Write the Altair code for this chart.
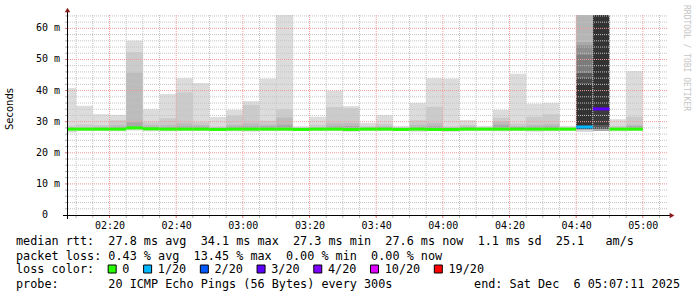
import altair as alt
import pandas as pd

# ---------------- data ----------------
# 5-minute steps, minutes after 02:00 (start / end of each step)
step_start = [5, 10, 15, 20, 25, 30, 35, 40, 45, 50, 55, 60, 65, 70, 75, 80, 85, 90,
              95, 100, 105, 110, 115, 120, 125, 130, 135, 140, 145, 150, 155, 160, 165, 170, 175]
step_end = [10, 15, 20, 25, 30, 35, 40, 45, 50, 55, 60, 65, 70, 75, 80, 85, 90, 95,
            100, 105, 110, 115, 120, 125, 130, 135, 140, 145, 150, 155, 160, 165, 170, 175, 180]

# smoke levels in ms
smoke_max = [40.8, 35.1, 32.4, 32.2, 56.0, 34.0, 38.9, 44.0, 42.4, 31.5, 33.8, 36.6, 43.8, 64.3,
             28.5, 31.6, 39.9, 35.0, 29.6, 32.1, 28.6, 36.0, 44.0, 43.8, 30.5, 28.6, 33.8, 45.4,
             35.8, 36.0, 28.6, 64.3, 64.3, 30.8, 46.3]
smoke_hi1 = [28.7, 29.1, 28.9, 30.5, 52.3, 29.8, 31.1, 39.4, 29.8, 28.5, 31.9, 35.4, 30.3, 34.0,
             28.2, 29.0, 34.7, 34.3, 28.6, 29.3, 28.2, 30.5, 34.8, 28.5, 29.0, 28.2, 31.3, 29.4,
             31.6, 32.4, 28.2, 28.6, 28.6, 28.7, 31.6]
smoke_hi2 = [28.2, 28.2, 28.4, 28.9, 45.7, 28.9, 29.0, 29.5, 28.9, 28.2, 29.0, 29.5, 29.0, 31.3,
             28.0, 28.3, 29.5, 29.5, 28.2, 28.5, 28.0, 29.0, 29.5, 28.2, 28.5, 28.0, 30.0, 28.6,
             29.0, 29.2, 28.0, 28.6, 28.6, 28.2, 29.0]
smoke_hi3 = [28.0, 28.0, 28.1, 28.3, 29.8, 28.3, 28.3, 28.5, 28.4, 28.0, 28.4, 28.5, 28.5, 29.0,
             27.9, 28.0, 28.5, 28.6, 28.0, 28.2, 27.9, 28.3, 28.5, 28.0, 28.2, 27.9, 29.0, 28.3,
             28.4, 28.5, 27.9, 28.6, 28.6, 28.0, 28.5]
smoke_min = [26.5, 27.0, 27.0, 26.9, 27.2, 26.9, 26.9, 27.0, 27.0, 27.0, 26.9, 26.8, 27.0, 27.0,
             27.2, 27.0, 27.0, 26.8, 27.0, 27.0, 27.0, 26.8, 27.0, 26.8, 27.0, 27.0, 26.9, 27.0,
             26.8, 26.9, 27.0, 26.8, 27.0, 26.9, 27.0]
median = [27.6, 27.6, 27.6, 27.6, 28.0, 27.7, 27.6, 27.6, 27.6, 27.5, 27.6, 27.6, 27.6, 27.6,
          27.5, 27.6, 27.6, 27.5, 27.6, 27.6, 27.5, 27.6, 27.5, 27.5, 27.6, 27.6, 27.6, 27.6,
          27.6, 27.6, 27.6, 28.3, 34.1, 27.6, 27.6]
loss = ["0"] * 31 + ["1/20", "3/20", "0", "0"]

# dark smoke of the two lossy steps (04:40 and 04:45)
dark_start = [160, 160, 160, 160, 160, 160, 160, 160, 165, 165, 165, 165]
dark_end = [165, 165, 165, 165, 165, 165, 165, 165, 170, 170, 170, 170]
dark_lo = [55.7, 54.6, 51.7, 45.7, 44.1, 42.3, 27.5, 26.8, 34.1, 28.9, 27.6, 27.0]
dark_hi = [64.3, 55.7, 54.6, 51.7, 45.7, 44.1, 42.3, 27.5, 64.3, 34.1, 28.9, 27.6]
dark_shade = ["#b5b5b5", "#a9a9a9", "#8e8e8e", "#7c7c7c", "#5c5c5c", "#474747", "#333333",
              "#d6d6d6", "#333333", "#3b3b3b", "#555555", "#a8a8a8"]

loss_labels = ["0", "1/20", "2/20", "3/20", "4/20", "10/20", "19/20"]
loss_colors = ["#26ff00", "#00b8ff", "#0059ff", "#5e00ff", "#7e00ff", "#dd00ff", "#ff0000"]

y_tick_vals = [0, 10, 20, 30, 40, 50, 60]
y_tick_text = ["0", "10", "20", "30", "40", "50", "60"]
x_major = [20, 40, 60, 80, 100, 120, 140, 160, 180]
x_minor = [10, 15, 25, 30, 35, 45, 50, 55, 65, 70, 75, 85, 90, 95, 105, 110, 115, 125, 130,
           135, 145, 150, 155, 165, 170, 175, 185]
y_major = [10, 20, 30, 40, 50, 60]
y_minor = [2, 4, 6, 8, 12, 14, 16, 18, 22, 24, 26, 28, 32, 34, 36, 38, 42, 44, 46, 48, 52, 54,
           56, 58, 62, 64]

legend_lines = [
    "median rtt:  27.8 ms avg  34.1 ms max  27.3 ms min  27.6 ms now  1.1 ms sd  25.1   am/s",
    "packet loss: 0.43 % avg  13.45 % max  0.00 % min  0.00 % now",
    "loss color:",
    "probe:       20 ICMP Echo Pings (56 Bytes) every 300s",
]
end_text = "end: Sat Dec  6 05:07:11 2025"

# ---------------- layout ----------------
W, H = 600, 200
PAD = {"left": 67, "top": 15, "right": 30, "bottom": 82}
MONO = "DejaVu Sans Mono"
CH = 7.09  # legend char width
LEG_FS = 11.8

def nb(s):
    return s.replace(" ", "\u00a0")

xs = alt.Scale(domain=[7.25, 187.25], nice=False, zero=False)
ys = alt.Scale(domain=[0, 64.3], nice=False, zero=False)

X_AX = alt.Axis(values=x_major, labelExpr="'0' + (2 + floor(datum.value / 60)) + ':' + (datum.value % 60 == 0 ? '00' : datum.value % 60)",
                labelFont=MONO, labelFontSize=10, labelColor="#000", labelPadding=5,
                ticks=False, domain=False, grid=False, title=None, labelFlush=False)

df = pd.DataFrame({"start": step_start, "end": step_end, "mx": smoke_max, "hi1": smoke_hi1,
                   "hi2": smoke_hi2, "hi3": smoke_hi3, "mn": smoke_min, "med": median,
                   "loss": loss})
dark = pd.DataFrame({"start": dark_start, "end": dark_end, "lo": dark_lo, "hi": dark_hi,
                     "shade": dark_shade})

base = alt.Chart(df)

def band(lo, hi, color):
    return base.mark_rect(color=color, clip=True).encode(
        x=alt.X("start:Q", scale=xs, axis=X_AX), x2="end:Q",
        y=alt.Y(f"{lo}:Q", scale=ys, axis=None), y2=f"{hi}:Q")

layers = [
    band("mn", "mx", "#dcdcdc"),
    band("med", "hi1", "#cbcbcb"),
    band("med", "hi2", "#bcbcbc"),
    band("med", "hi3", "#a9a9a9"),
    alt.Chart(dark).mark_rect(clip=True).encode(
        x=alt.X("start:Q", scale=xs, axis=X_AX), x2="end:Q",
        y=alt.Y("lo:Q", scale=ys, axis=None), y2="hi:Q",
        color=alt.Color("shade:N", scale=None)),
]

# grid
def vgrid(vals, color):
    return alt.Chart(pd.DataFrame({"v": vals})).mark_rule(color=color, strokeDash=[1, 1], strokeWidth=1).encode(
        x=alt.X("v:Q", scale=xs, axis=X_AX))

def hgrid(vals, color):
    return alt.Chart(pd.DataFrame({"v": vals})).mark_rule(color=color, strokeDash=[1, 1], strokeWidth=1).encode(
        y=alt.Y("v:Q", scale=ys, axis=None))

def vtick(vals, color):
    return alt.Chart(pd.DataFrame({"v": vals})).mark_rule(color=color, strokeWidth=1).encode(
        x=alt.X("v:Q", scale=xs, axis=X_AX), y=alt.value(201), y2=alt.value(203))

def htick(vals, color):
    return alt.Chart(pd.DataFrame({"v": vals})).mark_rule(color=color, strokeWidth=1).encode(
        y=alt.Y("v:Q", scale=ys, axis=None), x=alt.value(-2), x2=alt.value(0))

layers += [vgrid(x_minor, "#c4c4c4"), hgrid(y_minor, "#c4c4c4"),
           vgrid(x_major, "#ee9a9a"), hgrid(y_major, "#ee9a9a"),
           vtick(x_minor, "#b0b0b0"), vtick(x_major, "#e07070"),
           htick(y_minor, "#b0b0b0"), htick(y_major, "#e07070")]

# median line coloured by loss
layers.append(base.mark_rule(strokeWidth=3, clip=True).encode(
    x=alt.X("start:Q", scale=xs, axis=X_AX), x2="end:Q",
    y=alt.Y("med:Q", scale=ys, axis=None),
    color=alt.Color("loss:N", scale=alt.Scale(domain=loss_labels, range=loss_colors), legend=None)))

# axes lines and arrows
one = pd.DataFrame({"a": [0]})
layers += [
    alt.Chart(one).mark_rule(color="#000", strokeWidth=1).encode(
        x=alt.value(-4), x2=alt.value(603), y=alt.value(200.5)),
    alt.Chart(one).mark_rule(color="#000", strokeWidth=1).encode(
        x=alt.value(0.5), y=alt.value(204), y2=alt.value(-5)),
    alt.Chart(one).mark_point(shape="triangle-right", filled=True, color="#8b1a1a", size=30, opacity=1).encode(
        x=alt.value(605), y=alt.value(200.5)),
    alt.Chart(one).mark_point(shape="triangle-up", filled=True, color="#8b1a1a", size=30, opacity=1).encode(
        x=alt.value(0.5), y=alt.value(-5)),
]

# y labels
ylab = pd.DataFrame({"v": y_tick_vals, "t": y_tick_text})
layers += [
    alt.Chart(ylab).mark_text(align="right", baseline="middle", font=MONO, fontSize=10, color="#000").encode(
        x=alt.value(-19), y=alt.Y("v:Q", scale=ys, axis=None), text="t:N"),
    alt.Chart(ylab[ylab.v > 0]).mark_text(align="left", baseline="middle", font=MONO, fontSize=10, color="#000").encode(
        x=alt.value(-13), y=alt.Y("v:Q", scale=ys, axis=None), text=alt.value("m")),
    alt.Chart(one).mark_text(angle=270, align="center", baseline="middle", font="DejaVu Sans", fontSize=10, color="#000").encode(
        x=alt.value(-57), y=alt.value(94), text=alt.value("Seconds")),
    alt.Chart(one).mark_text(angle=90, align="left", baseline="middle", font=MONO, fontSize=8, color="#c4c4c4").encode(
        x=alt.value(619), y=alt.value(-10), text=alt.value("RRDTOOL / TOBI OETIKER")),
]

# legend text lines
line_y = [226, 241, 254, 269]
for txt, yy in zip(legend_lines, line_y):
    layers.append(alt.Chart(one).mark_text(align="left", baseline="middle", font=MONO, fontSize=LEG_FS, color="#000").encode(
        x=alt.value(16 - 67), y=alt.value(yy), text=alt.value(nb(txt))))
layers.append(alt.Chart(one).mark_text(align="right", baseline="middle", font=MONO, fontSize=LEG_FS, color="#000").encode(
    x=alt.value(680 - 67), y=alt.value(line_y[3]), text=alt.value(nb(end_text))))

# loss colour boxes
col = 13
bx, tx = [], []
for lab in loss_labels:
    bx.append(16 - 67 + col * CH + 4)
    tx.append(16 - 67 + (col + 2) * CH)
    col += 4 + len(lab)
leg = pd.DataFrame({"lab": loss_labels, "bx": bx, "tx": tx})
layers += [
    alt.Chart(leg).mark_square(size=64, opacity=1, stroke="#000", strokeWidth=1).encode(
        x=alt.X("bx:Q", scale=None), y=alt.value(line_y[2]),
        fill=alt.Fill("lab:N", scale=alt.Scale(domain=loss_labels, range=loss_colors), legend=None)),
    alt.Chart(leg).mark_text(align="left", baseline="middle", font=MONO, fontSize=LEG_FS, color="#000").encode(
        x=alt.X("tx:Q", scale=None), y=alt.value(line_y[2]), text="lab:N"),
]

chart = alt.layer(*layers).properties(
    width=W, height=H, padding=PAD, autosize=alt.AutoSizeParams(type="none"),
    background="white",
).configure_view(stroke=None)

chart.save("out.html", embed_options={"renderer": "svg", "actions": False})
